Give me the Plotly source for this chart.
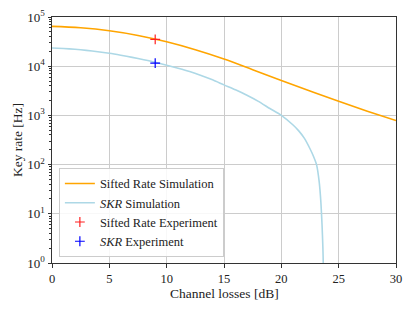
import plotly.graph_objects as go

# Simulation curves
loss_sifted = [0, 2.5, 5, 7.5, 10, 12.5, 15, 17.5, 20, 22.5, 25, 27.5, 30]
sifted_rate = [6.46e4, 6.03e4, 5.25e4, 4.22e4, 3.13e4, 2.16e4, 1.40e4, 8.51e3, 5.13e3, 3.13e3, 1.93e3, 1.22e3, 7.85e2]

loss_skr = [0, 1, 2, 3, 4, 5, 6, 7, 8, 9, 10, 11, 12, 13, 14, 15, 16, 17, 18, 19, 20, 21, 21.5, 22, 22.5,
            22.8, 23.07, 23.3, 23.45, 23.55, 23.62, 23.66, 23.7]
skr_rate = [2.35e4, 2.29e4, 2.21e4, 2.10e4, 1.97e4, 1.83e4, 1.67e4, 1.51e4, 1.35e4, 1.20e4, 1.05e4, 9.1e3,
            7.8e3, 6.5e3, 5.3e3, 4.17e3, 3.31e3, 2.57e3, 1.93e3, 1.38e3, 1.0e3, 6.45e2, 4.9e2, 3.45e2, 2.1e2,
            1.48e2, 1.0e2, 45, 17, 6, 2.2, 0.9, 0.05]

# Experiment points
exp_loss = [9]
exp_sifted = [3.5e4]
exp_skr = [1.15e4]

y_tick_vals = [1, 10, 100, 1000, 10000, 100000]
y_tick_text = ["10<sup>0</sup>", "10<sup>1</sup>", "10<sup>2</sup>", "10<sup>3</sup>", "10<sup>4</sup>", "10<sup>5</sup>"]
x_tick_vals = [0, 5, 10, 15, 20, 25, 30]

FONT = "Liberation Serif"
AX = "#333333"
GRID = "#cccccc"

fig = go.Figure()
fig.add_trace(go.Scatter(x=loss_sifted, y=sifted_rate, mode="lines", name="Sifted Rate Simulation",
                         line=dict(color="#FFA500", width=1.6, shape="spline")))
fig.add_trace(go.Scatter(x=loss_skr, y=skr_rate, mode="lines", name="<i>SKR</i> Simulation",
                         line=dict(color="#ADD8E6", width=1.6, shape="spline", smoothing=0.6)))
fig.add_trace(go.Scatter(x=exp_loss, y=exp_sifted, mode="markers", name="Sifted Rate Experiment",
                         marker=dict(symbol="cross-thin", size=7, line=dict(color="#ff2020", width=1.2))))
fig.add_trace(go.Scatter(x=exp_loss, y=exp_skr, mode="markers", name="<i>SKR</i> Experiment",
                         marker=dict(symbol="cross-thin", size=7, line=dict(color="blue", width=1.2))))

minor_vals = [m * 10 ** k for k in range(5) for m in range(2, 10)]

# page body has an 8px margin, so the figure is sized/offset to compensate
fig.update_layout(
    width=407, height=303,
    margin=dict(l=44, r=19, t=9, b=47.5),
    paper_bgcolor="white", plot_bgcolor="white",
    font=dict(family=FONT, size=13, color="#222222"),
    showlegend=True,
    legend=dict(x=0.02, y=0.025, xanchor="left", yanchor="bottom",
                bgcolor="rgba(255,255,255,0.85)", bordercolor="#cccccc", borderwidth=1,
                font=dict(family=FONT, size=12.5), tracegroupgap=0, itemwidth=30),
    xaxis=dict(range=[0, 30], tickvals=x_tick_vals, showgrid=True, gridcolor=GRID, gridwidth=1,
               showline=True, linecolor=AX, linewidth=1, mirror=True, ticks="outside", ticklen=3.5,
               tickcolor=AX, zeroline=False, automargin=False, tickfont=dict(size=12.5)),
    yaxis=dict(type="log", range=[0, 5], tickvals=y_tick_vals, ticktext=y_tick_text, showgrid=True,
               gridcolor=GRID, gridwidth=1, showline=True, linecolor=AX, linewidth=1, mirror=True,
               ticks="outside", ticklen=3.5, tickcolor=AX, zeroline=False, automargin=False,
               tickfont=dict(size=13),
               minor=dict(tickvals=minor_vals, ticks="outside", ticklen=2, tickcolor=AX, showgrid=False),
               title=dict(text="Key rate [Hz]", font=dict(family=FONT, size=13.5), standoff=1)),
    annotations=[dict(text="Channel losses [dB]", x=0.5, y=-0.122, xref="paper", yref="paper",
                      xanchor="center", yanchor="middle", showarrow=False, borderpad=0,
                      font=dict(family=FONT, size=13.5, color="#222222"))],
)

fig.write_html("out.html")
